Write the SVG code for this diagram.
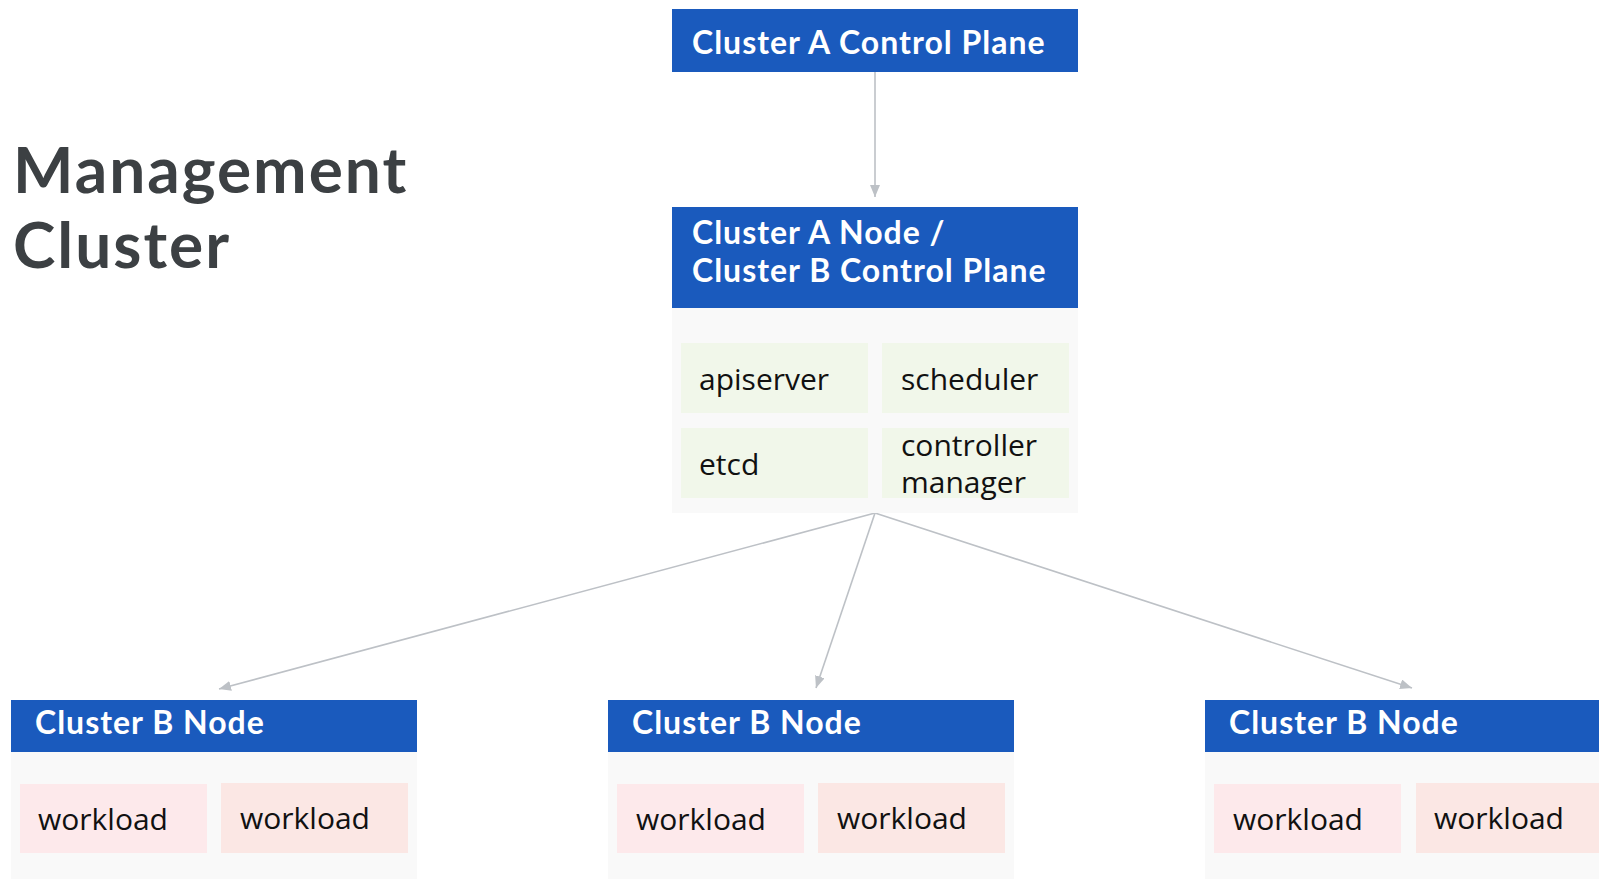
<svg xmlns="http://www.w3.org/2000/svg" width="1599" height="879" viewBox="0 0 1599 879">
  <defs>
    <marker id="arrow" viewBox="0 0 12 10" refX="12" refY="5" markerWidth="12" markerHeight="10" markerUnits="userSpaceOnUse" orient="auto">
      <path d="M0 0 L12 5 L0 10 Z" fill="#bdc1c6"/>
    </marker>
    <style>
      .hdr { fill: #1a5abd; }
      .panel { fill: #f9f9f9; }
      .comp { fill: #f1f7ea; }
      .wl1 { fill: #fde9eb; }
      .wl2 { fill: #fbe7e4; }
      .htxt { font-family: Lato, "Liberation Sans", sans-serif; font-weight: 700; font-size: 32px; letter-spacing: 1px; fill: #ffffff; }
      .btxt { font-family: "Open Sans", "Liberation Sans", sans-serif; font-size: 30px; fill: #111111; }
      .title { font-family: Lato, "Liberation Sans", sans-serif; font-weight: 700; font-size: 64px; letter-spacing: 2px; fill: #3c4043; }
      .edge { stroke: #bdc1c6; stroke-width: 1.6; fill: none; }
    </style>
  </defs>
  <rect width="1599" height="879" fill="#ffffff"/>

  <g id="title">
    <text class="title" x="13" y="193">Management</text>
    <text class="title" x="13" y="268">Cluster</text>
  </g>

  <g id="connectors">
    <line class="edge" x1="875" y1="72" x2="875" y2="197" marker-end="url(#arrow)"/>
    <line class="edge" x1="875" y1="513" x2="219" y2="689" marker-end="url(#arrow)"/>
    <line class="edge" x1="875" y1="513" x2="816" y2="688" marker-end="url(#arrow)"/>
    <line class="edge" x1="875" y1="513" x2="1412" y2="688" marker-end="url(#arrow)"/>
  </g>

  <g id="cluster-a-control-plane">
    <rect class="hdr" x="672" y="9" width="406" height="63"/>
    <text class="htxt" x="692" y="54">Cluster A Control Plane</text>
  </g>

  <g id="cluster-a-node">
    <rect class="panel" x="672" y="308" width="406" height="205"/>
    <rect class="hdr" x="672" y="207" width="406" height="101"/>
    <text class="htxt" x="692" y="244">Cluster A Node /</text>
    <text class="htxt" x="692" y="282">Cluster B Control Plane</text>
    <rect class="comp" x="681" y="343" width="187" height="70"/>
    <text class="btxt" x="699" y="390">apiserver</text>
    <rect class="comp" x="882" y="343" width="187" height="70"/>
    <text class="btxt" x="901" y="390">scheduler</text>
    <rect class="comp" x="681" y="428" width="187" height="70"/>
    <text class="btxt" x="699" y="475">etcd</text>
    <rect class="comp" x="882" y="428" width="187" height="70"/>
    <text class="btxt" x="901" y="456">controller</text>
    <text class="btxt" x="901" y="493">manager</text>
  </g>

  <g id="cluster-b-node-1">
    <rect class="panel" x="11" y="752" width="406" height="127"/>
    <rect class="hdr" x="11" y="700" width="406" height="52"/>
    <text class="htxt" x="35" y="734">Cluster B Node</text>
    <rect class="wl1" x="20" y="784" width="187" height="69"/>
    <text class="btxt" x="38" y="830">workload</text>
    <rect class="wl2" x="221" y="783" width="187" height="70"/>
    <text class="btxt" x="240" y="829">workload</text>
  </g>

  <g id="cluster-b-node-2">
    <rect class="panel" x="608" y="752" width="406" height="127"/>
    <rect class="hdr" x="608" y="700" width="406" height="52"/>
    <text class="htxt" x="632" y="734">Cluster B Node</text>
    <rect class="wl1" x="617" y="784" width="187" height="69"/>
    <text class="btxt" x="636" y="830">workload</text>
    <rect class="wl2" x="818" y="783" width="187" height="70"/>
    <text class="btxt" x="837" y="829">workload</text>
  </g>

  <g id="cluster-b-node-3">
    <rect class="panel" x="1205" y="752" width="406" height="127"/>
    <rect class="hdr" x="1205" y="700" width="406" height="52"/>
    <text class="htxt" x="1229" y="734">Cluster B Node</text>
    <rect class="wl1" x="1214" y="784" width="187" height="69"/>
    <text class="btxt" x="1233" y="830">workload</text>
    <rect class="wl2" x="1416" y="783" width="187" height="70"/>
    <text class="btxt" x="1434" y="829">workload</text>
  </g>
</svg>
